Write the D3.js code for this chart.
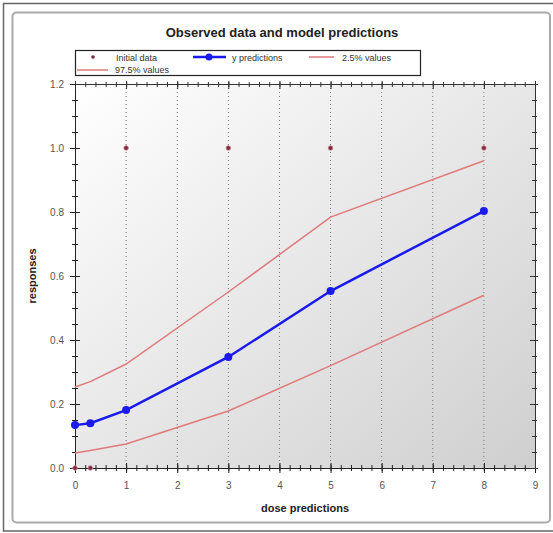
<!DOCTYPE html>
<html><head><meta charset="utf-8">
<script src="https://cdn.jsdelivr.net/npm/d3@7"></script>
<style>body{margin:0;background:#fff;}svg{display:block;}</style>
</head><body>
<script>
const doses = [0, 0.3, 1, 3, 5, 8];
const initialData = [0, 0, 1, 1, 1, 1];
const yPredictions = [0.134, 0.14, 0.181, 0.347, 0.553, 0.803];
const lower25 = [0.047, 0.055, 0.075, 0.178, 0.32, 0.54];
const upper975 = [0.253, 0.27, 0.325, 0.55, 0.784, 0.96];
const xTicks = [0,1,2,3,4,5,6,7,8,9];
const yTicks = [0.0,0.2,0.4,0.6,0.8,1.0,1.2];
const legendLabels = ["Initial data","y predictions","2.5% values","97.5% values"];
const titleText = "Observed data and model predictions";
const xLabel = "dose predictions";
const yLabel = "responses";

const W = 553, H = 533;
const svg = d3.select("body").append("svg").attr("width", W).attr("height", H);
const font = "Arial, 'Liberation Sans', sans-serif";

// frames
svg.append("rect").attr("x",3.5).attr("y",3.5).attr("width",560).attr("height",527.5)
  .attr("fill","#fff").attr("stroke","#666").attr("stroke-width",1.5);
svg.append("rect").attr("x",12.5).attr("y",12.5).attr("width",537.5).attr("height",510)
  .attr("rx",4).attr("fill","#fff").attr("stroke","#aaa").attr("stroke-width",2);

const x = d3.scaleLinear().domain([0,9]).range([75,535]);
const y = d3.scaleLinear().domain([0,1.2]).range([468,84]);

const defs = svg.append("defs");
const grad = defs.append("linearGradient").attr("id","bg").attr("x1","0").attr("y1","0").attr("x2","1").attr("y2","1");
grad.append("stop").attr("offset","0").attr("stop-color","#ffffff");
grad.append("stop").attr("offset","1").attr("stop-color","#cfcfcf");

svg.append("rect").attr("x",x(0)).attr("y",y(1.2)).attr("width",x(9)-x(0)).attr("height",y(0)-y(1.2))
  .attr("fill","url(#bg)");

// grid
svg.append("g").selectAll("line").data(xTicks.filter(d=>d>0&&d<9)).join("line")
  .attr("x1",d=>x(d)).attr("x2",d=>x(d)).attr("y1",y(1.2)).attr("y2",y(0))
  .attr("stroke","#777").attr("stroke-width",1).attr("stroke-dasharray","1,3");

// axes
const minorX = d3.range(0,9.001,0.2);
const minorY = d3.range(0,1.2001,0.05);
function axisStyle(g){ g.select(".domain").attr("stroke","#222"); g.selectAll(".tick line").attr("stroke","#222"); g.selectAll("text").attr("fill","#555").attr("font-family",font).attr("font-size",10); }

// bottom minor
svg.append("g").attr("transform",`translate(0,${y(0)})`)
  .call(d3.axisBottom(x).tickValues(minorX).tickSize(3).tickFormat(""))
  .call(g=>{g.select(".domain").remove(); g.selectAll(".tick line").attr("y1",-3).attr("stroke","#222");});
svg.append("g").attr("transform",`translate(0,${y(0)})`)
  .call(d3.axisBottom(x).tickValues(xTicks).tickSize(5).tickSizeOuter(0).tickPadding(9).tickFormat(d3.format("d")))
  .call(axisStyle).call(g=>g.selectAll(".tick line").attr("y1",-5));
// left
svg.append("g").attr("transform",`translate(${x(0)},0)`)
  .call(d3.axisLeft(y).tickValues(minorY).tickSize(3).tickFormat(""))
  .call(g=>{g.select(".domain").remove(); g.selectAll(".tick line").attr("x1",3).attr("stroke","#222");});
svg.append("g").attr("transform",`translate(${x(0)},0)`)
  .call(d3.axisLeft(y).tickValues(yTicks).tickSize(5).tickSizeOuter(0).tickPadding(6).tickFormat(d3.format(".1f")))
  .call(axisStyle).call(g=>g.selectAll(".tick line").attr("x1",5));
// top
svg.append("g").attr("transform",`translate(0,${y(1.2)})`)
  .call(d3.axisBottom(x).tickValues(minorX).tickSize(3).tickSizeOuter(0).tickFormat(""))
  .call(g=>{g.select(".domain").attr("stroke","#333"); g.selectAll(".tick line").attr("y1",-2).attr("stroke","#333");});
svg.append("g").attr("transform",`translate(0,${y(1.2)})`)
  .call(d3.axisBottom(x).tickValues(xTicks).tickSize(5).tickSizeOuter(0).tickFormat(""))
  .call(g=>{g.select(".domain").remove(); g.selectAll(".tick line").attr("y1",-3).attr("stroke","#333");});
// right
svg.append("g").attr("transform",`translate(${x(9)},0)`)
  .call(d3.axisLeft(y).tickValues(minorY).tickSize(3).tickSizeOuter(0).tickFormat(""))
  .call(g=>{g.select(".domain").attr("stroke","#333"); g.selectAll(".tick line").attr("x1",2).attr("stroke","#333");});
svg.append("g").attr("transform",`translate(${x(9)},0)`)
  .call(d3.axisLeft(y).tickValues(yTicks).tickSize(5).tickSizeOuter(0).tickFormat(""))
  .call(g=>{g.select(".domain").remove(); g.selectAll(".tick line").attr("x1",3).attr("stroke","#333");});

// series
const line = d3.line().x(d=>x(d[0])).y(d=>y(d[1]));
const redCol = "#e07a7a";
svg.append("path").datum(d3.zip(doses, lower25)).attr("d",line).attr("fill","none").attr("stroke",redCol).attr("stroke-width",1.5);
svg.append("path").datum(d3.zip(doses, upper975)).attr("d",line).attr("fill","none").attr("stroke",redCol).attr("stroke-width",1.5);
svg.append("path").datum(d3.zip(doses, yPredictions)).attr("d",line).attr("fill","none").attr("stroke","#1a1aee").attr("stroke-width",2.5);
svg.append("g").selectAll("circle").data(d3.zip(doses, yPredictions)).join("circle")
  .attr("cx",d=>x(d[0])).attr("cy",d=>y(d[1])).attr("r",4).attr("fill","#1a1aee");
svg.append("g").selectAll("circle").data(d3.zip(doses, initialData)).join("circle")
  .attr("cx",d=>x(d[0])).attr("cy",d=>y(d[1])).attr("r",2.3).attr("fill","#7a2a3a").attr("stroke","#d08090").attr("stroke-width",0.8);

// title & labels
svg.append("text").attr("x",282).attr("y",37).attr("text-anchor","middle").attr("font-family",font)
  .attr("font-weight","bold").attr("font-size",13).attr("fill","#222").text(titleText);
svg.append("text").attr("x",305).attr("y",512).attr("text-anchor","middle").attr("font-family",font)
  .attr("font-weight","bold").attr("font-size",11).attr("fill","#222").text(xLabel);
svg.append("text").attr("transform","translate(36,276) rotate(-90)").attr("text-anchor","middle").attr("font-family",font)
  .attr("font-weight","bold").attr("font-size",11).attr("fill","#222").text(yLabel);

// legend
const lg = svg.append("g");
lg.append("rect").attr("x",75.5).attr("y",50.5).attr("width",345).attr("height",25).attr("fill","#fff").attr("stroke","#222").attr("stroke-width",1.2);
const lt = (xx,yy,t)=>lg.append("text").attr("x",xx).attr("y",yy).attr("font-family",font).attr("font-size",9).attr("fill","#333").text(t);
lg.append("circle").attr("cx",93).attr("cy",57).attr("r",1.8).attr("fill","#7a2a3a");
lt(116,60.5,legendLabels[0]);
lg.append("line").attr("x1",193).attr("x2",226).attr("y1",57).attr("y2",57).attr("stroke","#1a1aee").attr("stroke-width",2.5);
lg.append("circle").attr("cx",209).attr("cy",57).attr("r",3.5).attr("fill","#1a1aee");
lt(232,60.5,legendLabels[1]);
lg.append("line").attr("x1",309).attr("x2",334).attr("y1",57).attr("y2",57).attr("stroke",redCol).attr("stroke-width",1.5);
lt(342,60.5,legendLabels[2]);
lg.append("line").attr("x1",77).attr("x2",108).attr("y1",70).attr("y2",70).attr("stroke",redCol).attr("stroke-width",1.5);
lt(115,73,legendLabels[3]);
</script>
</body></html>
